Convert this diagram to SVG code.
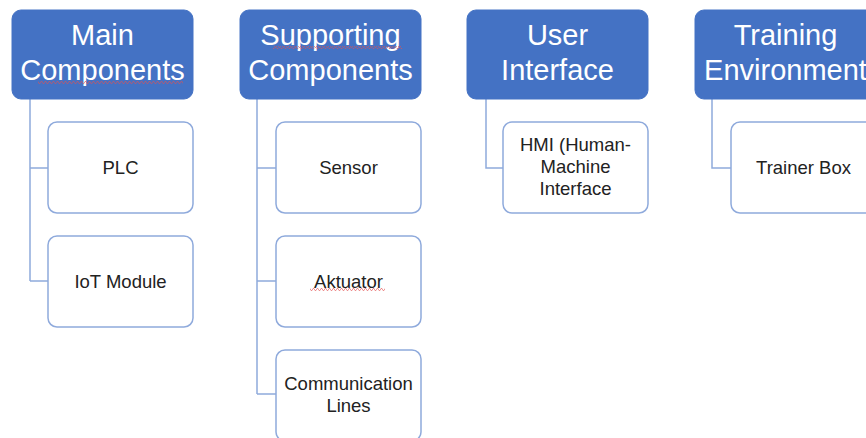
<svg xmlns="http://www.w3.org/2000/svg" width="866" height="438" viewBox="0 0 866 438">
<style>
.hdr{fill:#4472C4;stroke:#4472C4;stroke-width:1}
.chd{fill:#ffffff;stroke:#8FAADC;stroke-width:1.5}
.ht{font-family:"Liberation Sans",Arial,sans-serif;font-size:29px;fill:#ffffff;text-anchor:middle}
.ct{font-family:"Liberation Sans",Arial,sans-serif;font-size:18.5px;fill:#222222;text-anchor:middle}
.cn{fill:none;stroke:#8FAADC;stroke-width:1.5}
</style>
<defs>
<pattern id="squig" width="4" height="3" patternUnits="userSpaceOnUse">
<path d="M0,2.5 L1,0.5 L2,0.5 L3,2.5 L4,2.5" fill="none" stroke="#e05050" stroke-width="0.6"/>
</pattern>
</defs>
<rect width="866" height="438" fill="#ffffff"/>
<g id="connectors">
<path class="cn" d="M30,99 V281 M30,168 H48 M30,281 H48"/>
<path class="cn" d="M257,99 V394 M257,168 H276 M257,281 H276 M257,394 H276"/>
<path class="cn" d="M486,99 V168 H503"/>
<path class="cn" d="M712,99 V168 H731"/>
</g>
<g id="main-components">
<rect class="hdr" x="12" y="10" width="181" height="89" rx="9"/>
<text class="ht" x="102.5" y="45">Main</text>
<text class="ht" x="102.5" y="80">Components</text>
<rect x="38" y="81" width="145" height="3" fill="url(#squig)"/>
</g>
<g id="plc">
<rect class="chd" x="48" y="122" width="145" height="91" rx="9"/>
<text class="ct" x="120.5" y="174">PLC</text>
</g>
<g id="iot-module">
<rect class="chd" x="48" y="236" width="145" height="91" rx="9"/>
<text class="ct" x="120.5" y="288">IoT Module</text>
</g>
<g id="supporting-components">
<rect class="hdr" x="240" y="10" width="181" height="89" rx="9"/>
<text class="ht" x="330.5" y="45">Supporting</text>
<text class="ht" x="330.5" y="80">Components</text>
<rect x="273" y="46" width="129" height="3" fill="url(#squig)"/>
</g>
<g id="sensor">
<rect class="chd" x="276" y="122" width="145" height="91" rx="9"/>
<text class="ct" x="348.5" y="174">Sensor</text>
</g>
<g id="aktuator">
<rect class="chd" x="276" y="236" width="145" height="91" rx="9"/>
<text class="ct" x="348.5" y="288">Aktuator</text>
<rect x="310" y="288" width="75" height="3" fill="url(#squig)"/>
</g>
<g id="communication-lines">
<rect class="chd" x="276" y="350" width="145" height="91" rx="9"/>
<text class="ct" x="348.5" y="390">Communication</text>
<text class="ct" x="348.5" y="412">Lines</text>
</g>
<g id="user-interface">
<rect class="hdr" x="467" y="10" width="181" height="89" rx="9"/>
<text class="ht" x="557.5" y="45">User</text>
<text class="ht" x="557.5" y="80">Interface</text>
</g>
<g id="hmi">
<rect class="chd" x="503" y="122" width="145" height="91" rx="9"/>
<text class="ct" x="575.5" y="151">HMI (Human-</text>
<text class="ct" x="575.5" y="173">Machine</text>
<text class="ct" x="575.5" y="195">Interface</text>
</g>
<g id="training-environment">
<rect class="hdr" x="695" y="10" width="181" height="89" rx="9"/>
<text class="ht" x="785.5" y="45">Training</text>
<text class="ht" x="785.5" y="80">Environment</text>
</g>
<g id="trainer-box">
<rect class="chd" x="731" y="122" width="145" height="91" rx="9"/>
<text class="ct" x="803.5" y="174">Trainer Box</text>
</g>
</svg>
